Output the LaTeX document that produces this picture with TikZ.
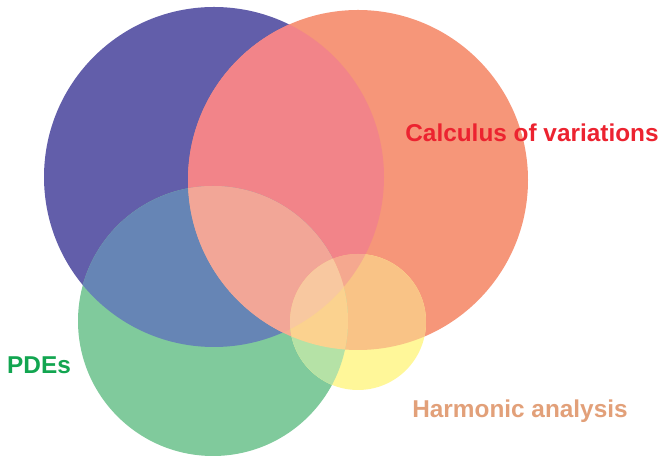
\documentclass[tikz,border=0pt]{standalone}
\usepackage{fontspec}
\setsansfont{Liberation Sans}
\usetikzlibrary{positioning}
\definecolor{geoPurple}  {HTML}{625EAA}
\definecolor{cvOrange}   {HTML}{F69679}
\definecolor{pdeGreen}   {HTML}{80CA9C}
\definecolor{haYellow}   {HTML}{FFF799}
\definecolor{mixPO}      {HTML}{F28489}
\definecolor{mixPG}      {HTML}{6685B5}
\definecolor{mixOG}      {HTML}{F5AE92}
\definecolor{mixOY}      {HTML}{F9C386}
\definecolor{mixGY}      {HTML}{B5E2A6}
\definecolor{mixPOG}     {HTML}{F2A697}
\definecolor{mixPOY}     {HTML}{F5A88F}
\definecolor{mixOGY}     {HTML}{FBD28F}
\definecolor{mixAll}     {HTML}{F8C8A0}
\definecolor{cvText}     {HTML}{EC2330}
\definecolor{pdeText}    {HTML}{12A550}
\definecolor{haText}     {HTML}{E2A079}
\newcommand{\discGeo}{(214,281) circle[radius=170]}
\newcommand{\discCv}{(358,278) circle[radius=170]}
\newcommand{\discPde}{(213,137) circle[radius=135]}
\newcommand{\discHa}{(358,136) circle[radius=68]}
\tikzset{
  font=\sffamily\bfseries\fontsize{20.8}{24}\selectfont,
  label/.style={inner sep=0pt,align=center},
}

\begin{document}
\begin{tikzpicture}[x=0.03cm,y=0.03cm]
\useasboundingbox (0,0) rectangle (664,458);

% single discs
\fill[geoPurple] \discGeo;
\fill[cvOrange]  \discCv;
\fill[pdeGreen]  \discPde;
\fill[haYellow]  \discHa;

% pairwise overlaps
\begin{scope}
  \clip \discGeo;
  \fill[mixPO] \discCv;
  \fill[mixPG] \discPde;
\end{scope}
\begin{scope}
  \clip \discCv;
  \fill[mixOG] \discPde;
  \fill[mixOY] \discHa;
\end{scope}
\begin{scope}
  \clip \discPde;
  \fill[mixGY] \discHa;
\end{scope}

% triple overlaps
\begin{scope}
  \clip \discGeo;
  \clip \discCv;
  \fill[mixPOG] \discPde;
  \fill[mixPOY] \discHa;
\end{scope}
\begin{scope}
  \clip \discCv;
  \clip \discPde;
  \fill[mixOGY] \discHa;
\end{scope}

% all four
\begin{scope}
  \clip \discGeo;
  \clip \discCv;
  \clip \discPde;
  \fill[mixAll] \discHa;
\end{scope}

\node[label,text=cvText]  (cv)  at (532,325) {Calculus of variations};
\node[label,text=pdeText] (pde) at (39,93)   {PDEs};
\node[label,text=haText]  (ha)  at (520,47)  {Harmonic analysis};

\end{tikzpicture}
\end{document}
